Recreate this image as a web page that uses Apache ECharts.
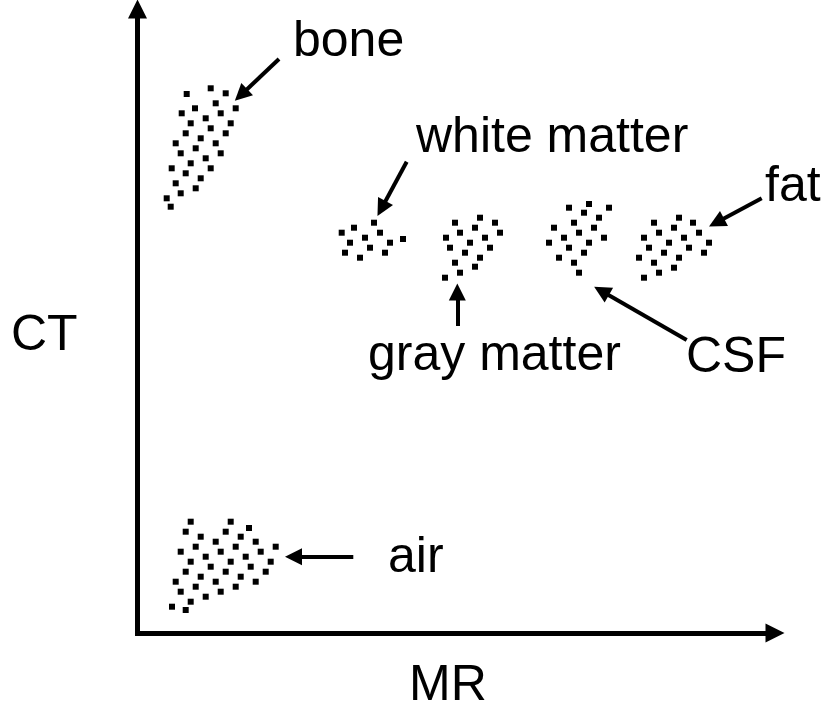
<!DOCTYPE html>
<html>
<head>
<meta charset="utf-8">
<script src="https://cdn.jsdelivr.net/npm/echarts@6/dist/echarts.min.js"></script>
<style>
  html, body { margin: 0; padding: 0; background: #fff; }
  #chart { width: 828px; height: 707px; }
</style>
</head>
<body>
<div id="chart"></div>
<script>
// schematic: MR signal (x) vs CT number (y), plotted in a pixel-like frame
const boneDots = [
  [210.7, 88.3], [225.7, 93.3], [186.7, 94], [215.7, 103.3], [195, 108.3], [235.7, 108.3],
  [181.7, 113.3], [220.7, 113.3], [205.7, 118.3], [190.7, 123.3], [230.7, 123.3],
  [210.7, 128.3], [185.7, 133.3], [225.7, 133.3], [200.7, 138.3], [175.7, 143.3],
  [215.7, 143.3], [195.7, 148.3], [180.7, 153.3], [220.7, 153.3], [205.7, 158.3],
  [190.7, 163.3], [210.7, 168.3], [171.7, 168.3], [185.7, 173.3], [200.7, 178.3],
  [175.7, 183.3], [195.7, 188.3], [180.7, 193.3], [166.7, 198.3], [170.7, 206.7]
];
const airDots = [
  [190.7, 521.7], [230.7, 521.7], [185.7, 531.7], [225.7, 531.7], [249, 528],
  [200.7, 536.7], [240.7, 536.7], [215.7, 541.7], [255.7, 541.7], [195.7, 546.7],
  [235.7, 546.7], [275.7, 546.7], [180.7, 551.7], [220.7, 551.7], [260.7, 551.7],
  [205.7, 556.7], [245.7, 556.7], [190.7, 561.7], [230.7, 561.7], [270.7, 561.7],
  [210.7, 566.7], [250.7, 566.7], [185.7, 571.7], [225.7, 571.7], [265.7, 571.7],
  [200.7, 576.7], [240.7, 576.7], [175.7, 581.7], [215.7, 581.7], [255.7, 581.7],
  [195.7, 586.7], [235.7, 586.7], [180.7, 591.7], [220.7, 591.7], [205.7, 596.7],
  [190.7, 601.7], [185.7, 610], [172, 606.7]
];
const whiteDots = [
  [374, 222.7], [354, 227.7], [380, 232.7], [341.7, 232.7], [365, 237.7], [390, 242.7],
  [350, 242.7], [370, 247.7], [403, 239], [345, 252.7], [385, 252.7], [360, 257.7]
];
const grayDots = [
  [480, 217.7], [455, 222.7], [495, 222.7], [475, 227.7], [460, 232.7], [500, 232.7],
  [446, 237.7], [485, 237.7], [470, 242.7], [450, 247.7], [490, 247.7], [465, 252.7],
  [480, 257.7], [455, 262.7], [475, 266.7], [460, 272.7], [445, 277.7]
];
const csfDots = [
  [589, 204], [569, 207.7], [609, 207.7], [584, 212.7], [599, 217.7], [574, 222.7],
  [554, 227.7], [594, 227.7], [579, 232.7], [564, 237.7], [604, 237.7], [549, 242.7],
  [589, 242.7], [569, 247.7], [584, 252.7], [559, 257.7], [574, 262.7], [579, 272.7]
];
const fatDots = [
  [679, 217.7], [654, 222.7], [693, 222.7], [674, 227.7], [659, 232.7], [699, 232.7],
  [644, 237.7], [684, 237.7], [669, 242.7], [709, 242.7], [649, 247.7], [689, 247.7],
  [664, 252.7], [704, 252.7], [639, 257.7], [679, 257.7], [654, 262.7], [674, 267.7],
  [659, 272.7], [644, 277.7]
];

// axis lines [from, to]
const axisLines = [
  [[137.5, 633], [137.5, 9]],
  [[135, 633], [775, 633]]
];
// pointer arrows [tail, tip]
const pointerArrows = [
  [[279, 59], [241, 95]],
  [[406.7, 161.7], [381.5, 208.5]],
  [[457.3, 326], [457.3, 292]],
  [[686.7, 340], [601.5, 291]],
  [[761.7, 198.3], [716.5, 222.5]],
  [[353.3, 556.7], [293.5, 556.7]]
];

const labelNames = ['bone', 'white matter', 'gray matter', 'CSF', 'fat', 'air', 'CT', 'MR'];
const labelPos = [
  [293, 42], [416, 138], [368, 356], [686, 358], [765, 187], [388, 558], [11, 336], [409, 686]
];

const dotSeries = (name, data) => ({
  name: name,
  type: 'scatter',
  symbol: 'rect',
  symbolSize: 6,
  itemStyle: { color: '#000', opacity: 1 },
  silent: true,
  data: data
});

const chart = echarts.init(document.getElementById('chart'));
chart.setOption({
  animation: false,
  backgroundColor: '#fff',
  grid: { left: 0, right: 0, top: 0, bottom: 0 },
  xAxis: { type: 'value', min: 0, max: 828, show: false },
  yAxis: { type: 'value', min: 0, max: 707, inverse: true, show: false },
  series: [
    dotSeries('bone', boneDots),
    dotSeries('air', airDots),
    dotSeries('white matter', whiteDots),
    dotSeries('gray matter', grayDots),
    dotSeries('CSF', csfDots),
    dotSeries('fat', fatDots),
    {
      type: 'lines',
      coordinateSystem: 'cartesian2d',
      symbol: ['none', 'triangle'],
      symbolSize: 19,
      lineStyle: { color: '#000', width: 5, opacity: 1 },
      silent: true,
      data: axisLines.map(c => ({ coords: c }))
    },
    {
      type: 'lines',
      coordinateSystem: 'cartesian2d',
      symbol: ['none', 'triangle'],
      symbolSize: 17,
      lineStyle: { color: '#000', width: 4, opacity: 1 },
      silent: true,
      data: pointerArrows.map(c => ({ coords: c }))
    },
    {
      type: 'scatter',
      symbolSize: 0,
      silent: true,
      itemStyle: { opacity: 1 },
      label: {
        show: true,
        position: 'right',
        distance: 0,
        formatter: '{b}',
        color: '#000',
        opacity: 1,
        fontSize: 50,
        fontFamily: 'Liberation Sans, Arial, sans-serif',
        align: 'left',
        verticalAlign: 'middle'
      },
      data: labelNames.map((n, i) => ({ name: n, value: labelPos[i] }))
    }
  ]
});
</script>
</body>
</html>
